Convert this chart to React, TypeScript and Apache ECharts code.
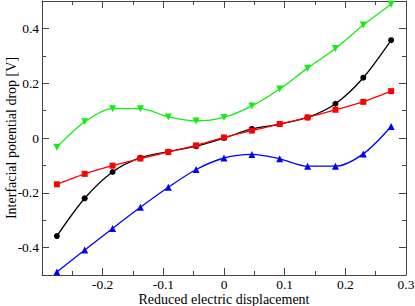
import React, { useEffect, useRef } from "react";
import * as echarts from "echarts";

const xValues = [-0.2755, -0.2296, -0.1837, -0.1378, -0.0918, -0.0459, 0, 0.0459, 0.0918, 0.1378, 0.1837, 0.2296, 0.2755];
const blackValues = [-0.358, -0.22, -0.124, -0.072, -0.05, -0.03, 0, 0.033, 0.051, 0.075, 0.125, 0.22, 0.357];
const redValues = [-0.169, -0.131, -0.101, -0.075, -0.051, -0.027, 0.002, 0.027, 0.051, 0.075, 0.103, 0.132, 0.171];
const greenValues = [-0.034, 0.059, 0.107, 0.107, 0.077, 0.062, 0.075, 0.117, 0.179, 0.255, 0.327, 0.412, 0.488];
const blueValues = [-0.489, -0.409, -0.33, -0.253, -0.18, -0.115, -0.073, -0.06, -0.076, -0.103, -0.103, -0.058, 0.042];

const xMajorTicks = [-0.3, -0.2, -0.1, 0, 0.1, 0.2, 0.3];
const xMinorTicks = [-0.25, -0.15, -0.05, 0.05, 0.15, 0.25];
const xLabels = [-0.2, -0.1, 0, 0.1, 0.2, 0.3];
const yMajorTicks = [-0.4, -0.2, 0, 0.2, 0.4];
const yMinorTicks = [-0.3, -0.1, 0.1, 0.3];
const yLabels = [-0.4, -0.2, 0, 0.2, 0.4];

const FONT = "Liberation Serif";
const FRAME = "#444";

function fmt(v: number) {
  if (Math.abs(v) < 1e-9) return "0";
  return String(Math.round(v * 10) / 10);
}

export default function App() {
  const ref = useRef<HTMLDivElement>(null);
  useEffect(() => {
    if (!ref.current) return;
    const chart = echarts.init(ref.current, undefined, { renderer: "svg" });
    const xBase = {
      type: "value" as const,
      min: -0.3,
      max: 0.3,
      splitLine: { show: false },
    };
    const yBase = {
      type: "value" as const,
      min: -0.5,
      max: 0.5,
      splitLine: { show: false },
    };
    const line = (show: boolean) => ({ show, onZero: false, lineStyle: { color: FRAME, width: 1 } });
    const mk = (pairs: number[]) => xValues.map((x, i) => [x, pairs[i]]);
    const series = [
      { name: "black", data: mk(blackValues), color: "#000000", symbol: "circle", symbolSize: 6, rotate: 0 },
      { name: "red", data: mk(redValues), color: "#ff0000", symbol: "rect", symbolSize: 6, rotate: 0 },
      { name: "green", data: mk(greenValues), color: "#11ee11", symbol: "triangle", symbolSize: 7, rotate: 180 },
      { name: "blue", data: mk(blueValues), color: "#0000ff", symbol: "triangle", symbolSize: 7, rotate: 0 },
    ].map((s) => ({
      type: "line" as const,
      name: s.name,
      data: s.data,
      smooth: s.name === "red" ? 0.15 : 0.3,
      symbol: s.symbol,
      symbolSize: s.symbolSize,
      symbolRotate: s.rotate,
      showSymbol: true,
      itemStyle: { color: s.color },
      lineStyle: { color: s.color, width: 1.3 },
      xAxisIndex: 0,
      yAxisIndex: 0,
      z: 3,
    }));

    chart.setOption({
      animation: false,
      backgroundColor: "#ffffff",
      grid: { left: 42, right: 9, top: 1, bottom: 31, containLabel: false, outerBoundsMode: "none" },
      xAxis: [
        {
          ...xBase,
          position: "bottom",
          name: "Reduced electric displacement",
          nameLocation: "middle",
          nameGap: 17,
          nameMoveOverlap: false,
          nameTextStyle: { fontFamily: FONT, fontSize: 14, color: "#000", lineHeight: 14 },
          axisLine: line(true),
          axisTick: { show: true, inside: true, length: 7, customValues: xMajorTicks, lineStyle: { color: FRAME } },
          axisLabel: {
            show: true,
            customValues: xLabels,
            margin: 3,
            fontFamily: FONT,
            fontSize: 13.5,
            lineHeight: 13,
            color: "#000",
            formatter: (v: number) => fmt(v),
          },
        },
        {
          ...xBase,
          position: "bottom",
          axisLine: line(false),
          axisTick: { show: true, inside: true, length: 4, customValues: xMinorTicks, lineStyle: { color: FRAME } },
          axisLabel: { show: false },
        },
        {
          ...xBase,
          position: "top",
          axisLine: line(true),
          axisTick: { show: true, inside: true, length: 7, customValues: xMajorTicks, lineStyle: { color: FRAME } },
          axisLabel: { show: false },
        },
        {
          ...xBase,
          position: "top",
          axisLine: line(false),
          axisTick: { show: true, inside: true, length: 4, customValues: xMinorTicks, lineStyle: { color: FRAME } },
          axisLabel: { show: false },
        },
      ],
      yAxis: [
        {
          ...yBase,
          position: "left",
          name: "Interfacial potential drop [V]",
          nameLocation: "middle",
          nameGap: 24,
          nameMoveOverlap: false,
          nameRotate: 90,
          nameTextStyle: { fontFamily: FONT, fontSize: 14, color: "#000", lineHeight: 14 },
          axisLine: line(true),
          axisTick: { show: true, inside: true, length: 7, customValues: yMajorTicks, lineStyle: { color: FRAME } },
          axisLabel: {
            show: true,
            customValues: yLabels,
            margin: 3,
            fontFamily: FONT,
            fontSize: 13.5,
            color: "#000",
            formatter: (v: number) => fmt(v),
          },
        },
        {
          ...yBase,
          position: "left",
          axisLine: line(false),
          axisTick: { show: true, inside: true, length: 4, customValues: yMinorTicks, lineStyle: { color: FRAME } },
          axisLabel: { show: false },
        },
        {
          ...yBase,
          position: "right",
          axisLine: line(true),
          axisTick: { show: true, inside: true, length: 7, customValues: yMajorTicks, lineStyle: { color: FRAME } },
          axisLabel: { show: false },
        },
        {
          ...yBase,
          position: "right",
          axisLine: line(false),
          axisTick: { show: true, inside: true, length: 4, customValues: yMinorTicks, lineStyle: { color: FRAME } },
          axisLabel: { show: false },
        },
      ],
      series,
    });
    return () => chart.dispose();
  }, []);
  return (
    <div
      ref={ref}
      style={{ position: "fixed", left: 0, top: 0, width: 415, height: 306, background: "#fff" }}
    />
  );
}
